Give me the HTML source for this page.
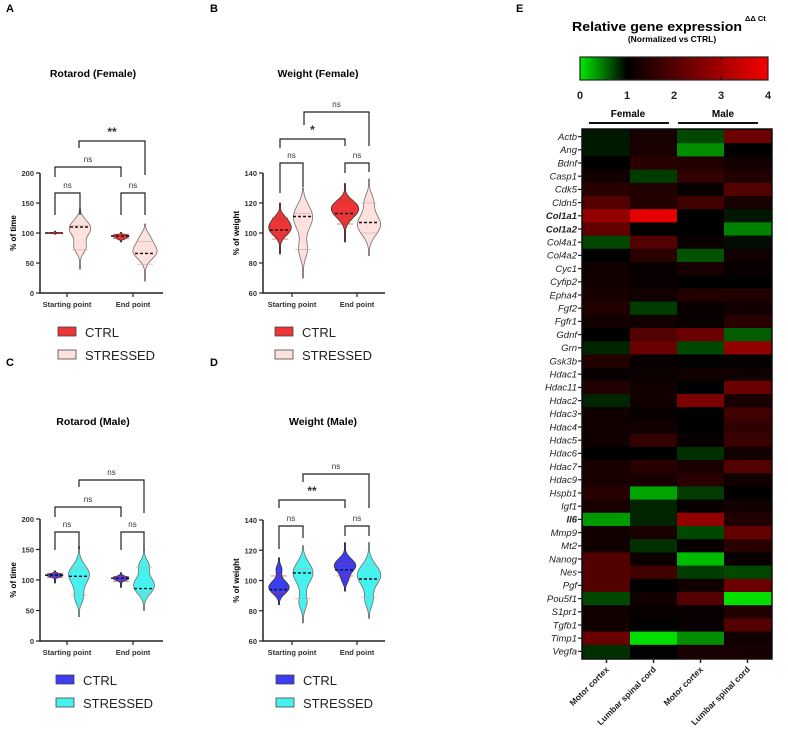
<!DOCTYPE html>
<html><head><meta charset="utf-8"><style>
body{margin:0;background:#fff}
svg{display:block;font-family:"Liberation Sans",Arial,sans-serif}
</style></head><body>
<svg id="fig" width="788" height="755" viewBox="0 0 788 755" xmlns="http://www.w3.org/2000/svg"></svg>
<script>
// ---------- Heatmap data ----------
const genes = ["Actb","Ang","Bdnf","Casp1","Cdk5","Cldn5","Col1a1","Col1a2","Col4a1","Col4a2","Cyc1","Cyfip2","Epha4","Fgf2","Fgfr1","Gdnf","Grn","Gsk3b","Hdac1","Hdac11","Hdac2","Hdac3","Hdac4","Hdac5","Hdac6","Hdac7","Hdac9","Hspb1","Igf1","Il6","Mmp9","Mt2","Nanog","Nes","Pgf","Pou5f1","S1pr1","Tgfb1","Timp1","Vegfa"];
const boldGenes = ["Col1a1","Col1a2","Il6"];
const tissues = ["Motor cortex","Lumbar spinal cord","Motor cortex","Lumbar spinal cord"];
const femaleMC = [0.9,0.9,1.0,1.2,1.5,2.0,2.8,2.2,0.7,1.0,1.2,1.2,1.3,1.4,1.2,1.0,0.85,1.4,1.1,1.4,0.85,1.2,1.2,1.2,1.0,1.3,1.3,1.5,1.3,0.35,1.2,1.2,2.0,2.0,2.0,0.7,1.2,1.2,2.3,0.8];
const femaleLSC = [1.3,1.3,1.5,0.75,1.4,1.4,3.8,1.0,2.0,1.5,1.1,1.1,1.2,0.75,1.2,2.0,2.3,1.1,1.15,1.2,1.2,1.1,1.2,1.6,1.0,1.5,1.3,0.3,0.85,0.85,1.3,0.8,1.15,1.8,1.0,1.2,1.1,1.0,0.05,1.0];
const maleMC = [0.7,0.4,1.4,1.6,1.1,1.8,1.0,1.0,1.1,0.65,1.3,1.0,1.4,1.1,1.1,2.3,0.7,1.0,1.2,1.0,2.5,1.0,1.0,1.1,0.8,1.3,1.5,0.75,1.1,2.8,0.7,1.1,0.2,0.75,1.2,2.0,1.1,1.1,0.4,1.3];
const maleLSC = [2.3,1.0,1.2,1.4,2.0,1.3,0.9,0.45,0.95,1.2,1.1,1.0,1.4,1.2,1.5,0.6,2.8,1.05,1.2,2.3,1.3,1.8,1.6,1.7,1.2,2.0,1.2,1.0,1.2,1.4,2.2,1.5,1.1,0.7,2.3,0.05,1.4,2.0,1.2,1.3];
const scaleTicks = [0,1,2,3,4];

// ---------- Violin data: [low, high, q1, median, q3, mode1, w1, mode2, w2] ----------
const rotFemaleStart = [[98,103,99,100,101,100,6,100,0],[40,140,72,110,112,110,10,75,5]];
const rotFemaleEnd = [[85,101,91,95,98,95,7,90,3],[20,115,48,66,86,70,10,95,4]];
const wtFemaleStart = [[86,120,96,102,110,103,9,110,3],[70,130,89,111,113,112,9,88,4]];
const wtFemaleEnd = [[94,133,106,113,122,115,10,120,3],[85,136,100,107,120,105,10,122,4]];
const rotMaleStart = [[95,115,104,108,111,108,7,108,0],[40,155,75,106,120,110,9,70,4]];
const rotMaleEnd = [[88,112,98,103,106,103,7,103,0],[50,150,78,86,120,90,9,125,5]];
const wtMaleStart = [[84,115,92,94,103,95,9,108,3],[72,123,88,105,108,106,9,85,4]];
const wtMaleEnd = [[93,125,103,107,111,110,9,100,3],[75,125,89,101,110,104,10,86,4]];
const rotTicks = [0,50,100,150,200];
const wtTicks = [60,80,100,120,140];

const NS="http://www.w3.org/2000/svg";
const svg=document.getElementById('fig');
function mk(tag,attrs,parent){const e=document.createElementNS(NS,tag);for(const k in attrs)e.setAttribute(k,attrs[k]);(parent||svg).appendChild(e);return e;}
function txt(s,attrs,parent){const e=mk('text',attrs,parent);e.textContent=s;return e;}

function panel(cfg){
  const g=mk('g',{});
  
  
  const L=txt(cfg.letter,{x:cfg.lx,y:cfg.ly,'font-size':11,'font-weight':'bold'},g);
  
  
  const T=txt(cfg.title,{x:cfg.tx,y:cfg.ty,'font-size':10.5,'font-weight':'bold','text-anchor':'middle'},g);
  
  
  const ax=cfg.ax, y0=cfg.y0, y1=cfg.y1, min=cfg.min, max=cfg.max;
  const ys=v=>y0-(v-min)/(max-min)*(y0-y1);
  const A=mk('path',{d:`M${ax},${y1} V${y0} H${cfg.axEnd}`,stroke:'#222','stroke-width':1.5,fill:'none'},g);
  
  
  cfg.ticks.forEach(t=>{
    mk('line',{x1:ax-4,x2:ax,y1:ys(t),y2:ys(t),stroke:'#222','stroke-width':1.2},g);
    const tl=txt(t,{x:ax-6,y:ys(t)+3,'font-size':7.5,'font-weight':'bold','text-anchor':'end',fill:'#333'},g);
    
    
  });
  const yt=txt(cfg.ylabel,{x:0,y:0,'font-size':8,'font-weight':'bold','text-anchor':'middle',transform:`translate(${ax-24},${(y0+y1)/2}) rotate(-90)`},g);
  
  
  cfg.cats.forEach((c,i)=>{
    mk('line',{x1:cfg.catX[i],x2:cfg.catX[i],y1:y0,y2:y0+4,stroke:'#222','stroke-width':1.2},g);
    const cl=txt(c,{x:cfg.catX[i],y:y0+14,'font-size':7.5,'font-weight':'bold','text-anchor':'middle',fill:'#333'},g);
    
    
  });
  const groups=[cfg.start,cfg.end];
  const vx=cfg.vx;
  const vw=1.2;
  groups.forEach((grp,gi)=>grp.forEach((d,si)=>{
    const cx=vx[gi*2+si];
    const [lo,hi,q1,med,q3,m1,w1,m2,w2]=d;
    const N=30,left=[],right=[];
    for(let k=0;k<=N;k++){
      const v=lo+(hi-lo)*k/N;
      const edge=Math.sin(Math.PI*k/N);
      const sp=(hi-lo)/5;
      let w=vw*(w1*Math.exp(-Math.pow((v-m1)/sp,2))+w2*Math.exp(-Math.pow((v-m2)/(sp*0.7),2)));
      w=Math.max(w*Math.pow(edge,0.6),0.6);
      if(k===0||k===N)w=0.5;
      right.push([cx+w,ys(v)]);left.push([cx-w,ys(v)]);
    }
    const pts=right.concat(left.reverse());
    const p=mk('path',{d:'M'+pts.map(q=>q[0].toFixed(1)+','+q[1].toFixed(1)).join(' L')+'Z',fill:si?cfg.c2:cfg.c1,stroke:si?'#7a6a6a':'#333','stroke-width':0.8},g);
    
    
    mk('line',{x1:cx-10,x2:cx+10,y1:ys(med),y2:ys(med),stroke:'#111','stroke-width':1.4,'stroke-dasharray':'3,2'},g);
    [q1,q3].forEach(q=>mk('line',{x1:cx-8,x2:cx+8,y1:ys(q),y2:ys(q),stroke:si?'#c9a9a9':'#b33','stroke-width':0.6},g));
  }));
  cfg.brackets.forEach(b=>{
    const [xa,xb,yb,label,ya,yb2]=b;
    mk('path',{d:`M${xa},${ya} V${yb} H${xb} V${yb2}`,stroke:'#222','stroke-width':1.2,fill:'none'},g);
    const bl=txt(label,{x:(xa+xb)/2,y:yb-5,'font-size':label==='ns'?8:12,'font-weight':label==='ns'?'normal':'bold','text-anchor':'middle',fill:'#333'},g);
    
    
  });
  [['CTRL',cfg.c1],['STRESSED',cfg.c2]].forEach((l,i)=>{
    const yy=cfg.legY+i*23;
    const r=mk('rect',{x:cfg.legX,y:yy-5,width:18,height:9,fill:l[1],stroke:'#444','stroke-width':0.8},g);
    
    
    const lt=txt(l[0],{x:cfg.legX+27,y:yy+5,'font-size':13,fill:'#222'},g);
    
    
  });
}
const red='#ee3535',pink='#fde1df',blue='#3c3cf0',cyan='#45f2f0';
panel({name:'panel-a-rotarod-female',letter:'A',lx:6,ly:12,title:'Rotarod (Female)',tx:93,ty:77,ax:40,axEnd:163,y0:293,y1:173,min:0,max:200,ticks:rotTicks,ylabel:'% of time',cats:['Starting point','End point'],catX:[67,133],vx:[55,80,121,145],start:rotFemaleStart,end:rotFemaleEnd,c1:red,c2:pink,legX:58,legY:332,
 brackets:[[55,80,193,'ns',215,215],[121,145,193,'ns',215,215],[55,121,167,'ns',177,177],[79,145,141,'**',148,175]]});
panel({name:'panel-b-weight-female',letter:'B',lx:210,ly:12,title:'Weight (Female)',tx:318,ty:77,ax:263,axEnd:385,y0:293,y1:173,min:60,max:140,ticks:wtTicks,ylabel:'% of weight',cats:['Starting point','End point'],catX:[292,357],vx:[280,303,345,369],start:wtFemaleStart,end:wtFemaleEnd,c1:red,c2:pink,legX:275,legY:332,
 brackets:[[280,303,163,'ns',193,187],[345,369,163,'ns',173,172],[280,345,139,'*',148,146],[304,369,112,'ns',125,146]]});
panel({name:'panel-c-rotarod-male',letter:'C',lx:6,ly:366,title:'Rotarod (Male)',tx:93,ty:425,ax:40,axEnd:163,y0:641,y1:519,min:0,max:200,ticks:rotTicks,ylabel:'% of time',cats:['Starting point','End point'],catX:[67,133],vx:[55,79,121,144],start:rotMaleStart,end:rotMaleEnd,c1:blue,c2:cyan,legX:56,legY:680,
 brackets:[[55,79,532,'ns',550,549],[121,144,532,'ns',550,550],[55,121,507,'ns',517,517],[79,144,480,'ns',487,513]]});
panel({name:'panel-d-weight-male',letter:'D',lx:210,ly:366,title:'Weight (Male)',tx:323,ty:425,ax:263,axEnd:385,y0:641,y1:520,min:60,max:140,ticks:wtTicks,ylabel:'% of weight',cats:['Starting point','End point'],catX:[292,357],vx:[279,303,345,369],start:wtMaleStart,end:wtMaleEnd,c1:blue,c2:cyan,legX:276,legY:680,
 brackets:[[279,303,526,'ns',549,538],[345,369,526,'ns',536,536],[279,345,500,'**',508,508],[303,369,474,'ns',482,508]]});

// ---------- Heatmap ----------
const hm=mk('g',{});


const el=txt('E',{x:516,y:12,'font-size':11,'font-weight':'bold'},hm);


const t1=txt('Relative gene expression',{x:572,y:31,'font-size':13,'font-weight':'bold',textLength:170,lengthAdjust:'spacingAndGlyphs'},hm);


txt('ΔΔ Ct',{x:745,y:21,'font-size':7.5,'font-weight':'bold'},hm);
const t2=txt('(Normalized vs CTRL)',{x:672,y:42,'font-size':8.5,'font-weight':'bold','text-anchor':'middle'},hm);


function col(v){
  if(v<=1){const t=1-v;return `rgb(0,${Math.round(235*t)},0)`;}
  const t=Math.min((v-1)/3,1);return `rgb(${Math.round(245*t)},0,0)`;
}
const defs=mk('defs',{});
const lg=mk('linearGradient',{id:'cb',x1:0,x2:1,y1:0,y2:0},defs);
scaleTicks.forEach((v,i)=>mk('stop',{offset:i/4,'stop-color':col(v)},lg));
const cbX0=580,cbX1=768;
const cs=v=>cbX0+(v-scaleTicks[0])/(scaleTicks[4]-scaleTicks[0])*(cbX1-cbX0);
const cb=mk('rect',{x:cbX0,y:57,width:cbX1-cbX0,height:23,fill:'url(#cb)',stroke:'#222','stroke-width':1.2},hm);


scaleTicks.forEach(v=>{
  if(v>1&&v<4){mk('line',{x1:cs(v),x2:cs(v),y1:57,y2:60,stroke:'#111'},hm);mk('line',{x1:cs(v),x2:cs(v),y1:77,y2:80,stroke:'#111'},hm);}
  const l=txt(v,{x:cs(v),y:99,'font-size':11,'font-weight':'bold','text-anchor':'middle',fill:'#222'},hm);
  
  
});
const fl=txt('Female',{x:628,y:117,'font-size':10,'font-weight':'bold','text-anchor':'middle'},hm);


const ml=txt('Male',{x:723,y:117,'font-size':10,'font-weight':'bold','text-anchor':'middle'},hm);


mk('line',{x1:589,x2:669,y1:123,y2:123,stroke:'#111','stroke-width':2},hm);
mk('line',{x1:678,x2:758,y1:123,y2:123,stroke:'#111','stroke-width':2},hm);
const hx0=583,hx1=771,hy0=130,hy1=658;
const cols=[femaleMC,femaleLSC,maleMC,maleLSC];
const cw=(hx1-hx0)/cols.length, rh=(hy1-hy0)/genes.length;
mk('rect',{x:hx0-1,y:hy0-1,width:hx1-hx0+2,height:hy1-hy0+2,fill:'#000',stroke:'#111','stroke-width':1.5},hm);
genes.forEach((gname,r)=>{
  cols.forEach((arr,c)=>{
    const cell=mk('rect',{x:(hx0+c*cw).toFixed(2),y:(hy0+r*rh).toFixed(2),width:(cw+0.3).toFixed(2),height:(rh+0.3).toFixed(2),fill:col(arr[r])},hm);
    
    
  });
  const yy=hy0+(r+0.5)*rh;
  mk('line',{x1:hx0-5,x2:hx0-1,y1:yy,y2:yy,stroke:'#222','stroke-width':1.2},hm);
  const b=boldGenes.includes(gname);
  const gl=txt(gname,{x:hx0-6,y:yy+3.3,'font-size':9.5,'font-style':'italic','font-weight':b?'bold':'normal','text-anchor':'end',fill:'#222'},hm);
  
  
});
tissues.forEach((t,c)=>{
  const x=hx0+(c+0.5)*cw;
  mk('line',{x1:x,x2:x,y1:hy1,y2:hy1+5,stroke:'#222','stroke-width':1.5},hm);
  const tl=txt(t,{x:0,y:0,'font-size':8.5,'font-weight':'bold','text-anchor':'end',fill:'#222',transform:`translate(${x+3},${hy1+12}) rotate(-45)`},hm);
  
  
});
</script>
</body></html>
